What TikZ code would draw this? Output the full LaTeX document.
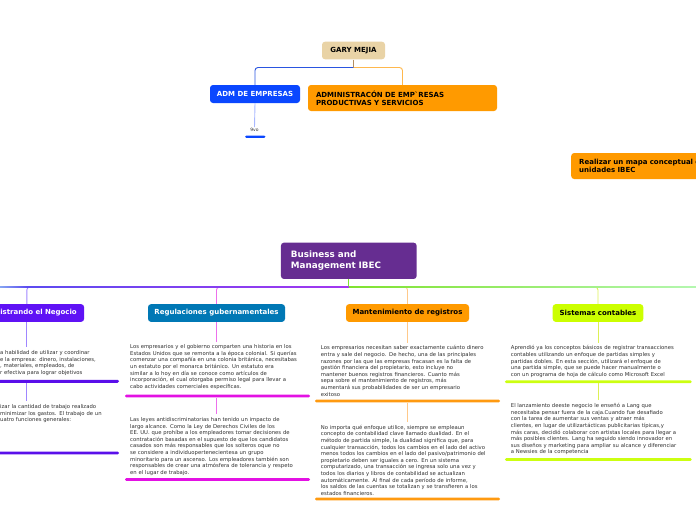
\documentclass[tikz,border=0pt]{standalone}
\usepackage{fontspec}
\setmainfont{DejaVu Sans}
\definecolor{garytan}{HTML}{E9D3A6}
\definecolor{garyline}{HTML}{B38D5E}
\definecolor{admblue}{HTML}{0A47FF}
\definecolor{admline}{HTML}{2A55E0}
\definecolor{admsub}{HTML}{A9B8FF}
\definecolor{orangebox}{HTML}{FF9A00}
\definecolor{orangeline}{HTML}{FFB84D}
\definecolor{bizpurple}{HTML}{662D91}
\definecolor{negpurple}{HTML}{5F12F5}
\definecolor{regblue}{HTML}{0078B5}
\definecolor{sistlime}{HTML}{CCFF00}
\definecolor{notegray}{HTML}{2E2E2E}
\definecolor{trunkA}{HTML}{86A6F2}
\definecolor{trunkB}{HTML}{5C4BF0}
\definecolor{trunkC}{HTML}{A336F0}
\definecolor{trunkD}{HTML}{7FE22E}
\definecolor{trunkE}{HTML}{B4F7B0}
\definecolor{negbar}{HTML}{5A0FEA}
\definecolor{regbar}{HTML}{E311E3}
\definecolor{mantbar}{HTML}{FF9A10}
\definecolor{sistbar}{HTML}{CCFF11}
\definecolor{neglink}{HTML}{9F86FF}
\definecolor{reglink}{HTML}{EC70EC}
\definecolor{mantlink}{HTML}{FFC98A}
\definecolor{sistlink}{HTML}{DDF055}
% one justified line of a note
\newcommand{\jl}[2]{\makebox[#1pt][s]{#2}}

\begin{document}
\begin{tikzpicture}[x=1pt,y=-1pt,
  topic/.style={rounded corners=3pt, inner sep=0pt, font=\bfseries\fontsize{7}{8.4}\selectfont},
  note/.style={anchor=north west, inner sep=0pt, text width=180pt, align=left, text=notegray, font=\fontsize{5.3}{6.6}\selectfont},
  link/.style={line width=0.9pt, rounded corners=3pt},
  ubar/.style={inner sep=0pt, minimum height=2.9pt, rounded corners=1.3pt}]
\useasboundingbox (0,0) rectangle (696,520);
\clip (0,0) rectangle (696,520);

% top of the map
\node[topic, fill=garytan, minimum width=63pt, minimum height=17.6pt] (gary) at (353.5,50.5) {GARY MEJIA};
\node[topic, fill=admblue, text=white, minimum width=90pt, minimum height=18pt] (adm) at (255,94) {ADM DE EMPRESAS};
\node[topic, fill=orangebox, text width=173pt, inner xsep=8pt, minimum height=26pt, align=left] (admin) at (402.5,98) {ADMINISTRACÓN DE EMPˋRESAS\\PRODUCTIVAS Y SERVICIOS};
\node[font=\fontsize{4.5}{5}\selectfont, text=notegray, inner sep=1pt] (nine) at (254.5,130) {9vo};
\node[ubar, fill=admblue, minimum width=20.5pt, minimum height=2.4pt] (ninebar) at (255.3,136.7) {};
\coordinate (hub) at (353.5,67.5);
\draw[link, garyline] (gary.south) -- (hub);
\draw[link, admline] (hub) -| (adm.north);
\draw[link, orangeline] (hub) -| (admin.north);
\draw[link, admsub] (adm.south) -- (nine.north);

\node[topic, fill=orangebox, anchor=west, text width=150pt, inner xsep=8pt, minimum height=26pt, align=left] (mapa) at (571,166) {Realizar un mapa conceptual d\\unidades IBEC};

% central topic and branches
\node[topic, fill=bizpurple, text=white, text width=115.7pt, inner xsep=10pt, minimum height=36.3pt, align=left, font=\bfseries\fontsize{8.8}{11}\selectfont] (biz) at (348.8,260.8) {Business and\\Management IBEC};
\coordinate (hubB) at (348.8,287);

\node[topic, fill=negpurple, text=white, anchor=east, text width=100pt, inner xsep=7.3pt, minimum height=17.7pt, align=right] (negocio) at (84.3,313) {istrando el Negocio};
\node[topic, fill=regblue, text=white, minimum width=137pt, minimum height=17.7pt] (reg) at (216.5,313) {Regulaciones gubernamentales};
\node[topic, fill=orangebox, minimum width=123pt, minimum height=17.7pt] (mant) at (407.5,313) {Mantenimiento de registros};
\node[topic, fill=sistlime, minimum width=90.6pt, minimum height=17.7pt] (sist) at (598,313) {Sistemas contables};

\draw[link, trunkD] (biz.south) -- (hubB);
\draw[link, neglink] (hubB) -| (negocio.north);
\draw[link, reglink] (hubB) -| (reg.north);
\draw[link, mantlink] (hubB) -| (mant.north);
\draw[link, sistlink] (hubB) -| (sist.north);
% trunk line
\shade[left color=trunkA, right color=trunkB] (0,286.55) rectangle (27,287.45);
\shade[left color=trunkB, right color=trunkC] (27,286.55) rectangle (348.8,287.45);
\shade[left color=trunkD, right color=trunkE] (348.8,286.55) rectangle (696,287.45);

% notes
\node[note] (neg1) at (0,350.2) {\jl{102}{a habilidad de utilizar y coordinar}\\
\jl{106}{e la empresa: dinero, instalaciones,}\\
\jl{98}{, materiales, empleados, de}\\
\jl{95}{r efectiva para lograr objetivos}};
\node[note] (neg2) at (0,404.2) {\jl{106.7}{izar la cantidad de trabajo realizado}\\
\jl{100}{minimizar los gastos. El trabajo de un}\\
uatro funciones generales:};

\node[note] (reg1) at (130,344.5) {\jl{172.7}{Los empresarios y el gobierno comparten una historia en los}\\
\jl{172.7}{Estados Unidos que se remonta a la época colonial. Si querías}\\
\jl{172.7}{comenzar una compañía en una colonia británica, necesitabas}\\
\jl{146.7}{un estatuto por el monarca británico. Un estatuto era}\\
\jl{155}{similar a lo hoy en día se conoce como artículos de}\\
\jl{172.7}{incorporación, el cual otorgaba permiso legal para llevar a}\\
\jl{109}{cabo actividades comerciales específicas.}};
\node[note] (reg2) at (130,417.2) {\jl{166.7}{Las leyes antidiscriminatorias han tenido un impacto de}\\
\jl{165.7}{largo alcance. Como la Ley de Derechos Civiles de los}\\
\jl{172.7}{EE. UU. que prohíbe a los empleadores tomar decisiones de}\\
\jl{164}{contratación basadas en el supuesto de que los candidatos}\\
\jl{165}{casados son más responsables que los solteros oque no}\\
\jl{146.7}{se considere a individuopertenecientesa un grupo}\\
\jl{172.7}{minoritario para un ascenso. Los empleadores también son}\\
\jl{172.7}{responsables de crear una atmósfera de tolerancia y respeto}\\
\jl{68.3}{en el lugar de trabajo.}};

\node[note] (mant1) at (320.7,345.5) {\jl{166}{Los empresarios necesitan saber exactamente cuánto dinero}\\
\jl{167.6}{entra y sale del negocio. De hecho, una de las principales}\\
\jl{172}{razones por las que las empresas fracasan es la falta de}\\
\jl{141}{gestión financiera del propietario, esto incluye no}\\
\jl{172}{mantener buenos registros financieros. Cuanto más}\\
\jl{147.6}{sepa sobre el mantenimiento de registros, más}\\
\jl{162.6}{aumentará sus probabilidades de ser un empresario}\\
exitoso};
\node[note] (mant2) at (320.7,424.9) {\jl{154.3}{No importa qué enfoque utilice, siempre se empleaun}\\
\jl{165.3}{concepto de contabilidad clave llamado dualidad. En el}\\
\jl{172}{método de partida simple, la dualidad significa que, para}\\
\jl{172}{cualquier transacción, todos los cambios en el lado del activo}\\
\jl{172}{menos todos los cambios en el lado del pasivo/patrimonio del}\\
\jl{144.3}{propietario deben ser iguales a cero. En un sistema}\\
\jl{160}{computarizado, una transacción se ingresa solo una vez y}\\
\jl{157.6}{todos los diarios y libros de contabilidad se actualizan}\\
\jl{172}{automáticamente. Al final de cada período de informe,}\\
\jl{171}{los saldos de las cuentas se totalizan y se transfieren a los}\\
estados financieros.};

\node[note] (sist1) at (510.7,345.5) {\jl{171}{Aprendió ya los conceptos básicos de registrar transacciones}\\
\jl{157.6}{contables utilizando un enfoque de partidas simples y}\\
\jl{165.3}{partidas dobles. En esta sección, utilizará el enfoque de}\\
\jl{165.3}{una partida simple, que se puede hacer manualmente o}\\
\jl{161}{con un programa de hoja de cálculo como Microsoft Excel}};
\node[note] (sist2) at (510.7,403.2) {\jl{145.3}{El lanzamiento deeste negocio le enseñó a Lang que}\\
\jl{156}{necesitaba pensar fuera de la caja.Cuando fue desafiado}\\
\jl{145.3}{con la tarea de aumentar sus ventas y atraer más}\\
\jl{165.3}{clientes, en lugar de utilizartácticas publicitarias típicas,y}\\
\jl{171}{más caras, decidió colaborar con artistas locales para llegar a}\\
\jl{166.6}{más posibles clientes. Lang ha seguido siendo innovador en}\\
\jl{171}{sus diseños y marketing para ampliar su alcance y diferenciar}\\
a Newsies de la competencia};

% underline bars
\node[ubar, fill=negbar, minimum width=124pt] (neg1bar) at (57,381.3) {};
\node[ubar, fill=negbar, minimum width=124pt] (neg2bar) at (57,453) {};
\node[ubar, fill=regbar, minimum width=185pt] (reg1bar) at (217.5,396) {};
\node[ubar, fill=regbar, minimum width=185pt] (reg2bar) at (217.5,479.5) {};
\node[ubar, fill=mantbar, minimum width=185pt] (mant1bar) at (407.5,401) {};
\node[ubar, fill=mantbar, minimum width=185pt] (mant2bar) at (407.5,499) {};
\node[ubar, fill=sistbar, minimum width=186.7pt] (sist1bar) at (598.3,381.7) {};
\node[ubar, fill=sistbar, minimum width=186.7pt] (sist2bar) at (598.3,459.5) {};

% links down to the notes
\draw[link, neglink, shorten >=3pt] (negocio.south) -- (negocio.south |- neg1.north);
\draw[link, neglink, shorten >=3pt] (negocio.south |- neg1bar.south) -- (negocio.south |- neg2.north);
\draw[link, reglink, shorten >=3pt] (reg.south) -- (reg.south |- reg1.north);
\draw[link, reglink, shorten >=3pt] (reg.south |- reg1bar.south) -- (reg.south |- reg2.north);
\draw[link, mantlink, shorten >=3pt] (mant.south) -- (mant.south |- mant1.north);
\draw[link, mantlink, shorten >=3pt] (mant.south |- mant1bar.south) -- (mant.south |- mant2.north);
\draw[link, sistlink, shorten >=3pt] (sist.south) -- (sist.south |- sist1.north);
\draw[link, sistlink, shorten >=3pt] (sist.south |- sist1bar.south) -- (sist.south |- sist2.north);
\end{tikzpicture}
\end{document}
